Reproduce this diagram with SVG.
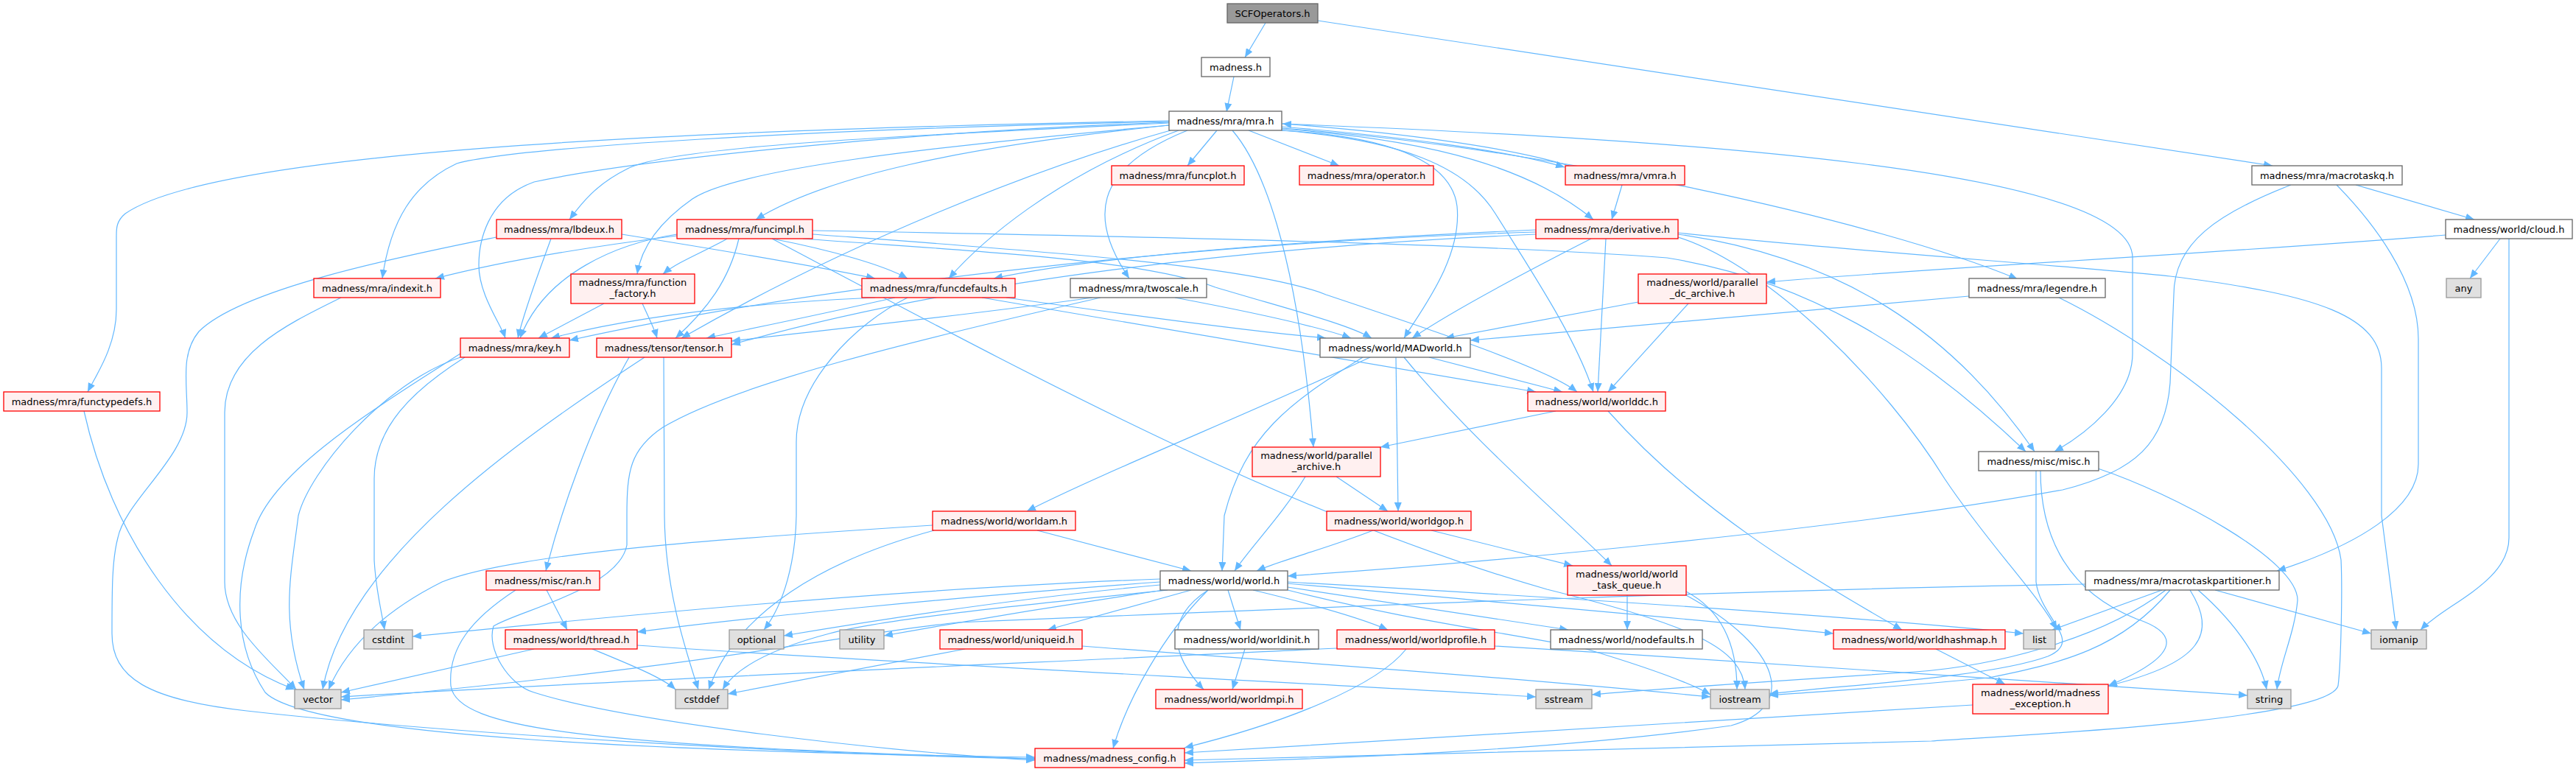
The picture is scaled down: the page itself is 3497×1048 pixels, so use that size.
<svg xmlns="http://www.w3.org/2000/svg" width="3497" height="1048" viewBox="0 0 3497 1048">
<style>
.e{fill:none;stroke:#63b8ff;stroke-width:1.2;marker-end:url(#a)}
.n rect{fill:#ffffff;stroke:#666666;stroke-width:1.3}
.r rect{fill:#fff0f0;stroke:#ff0000;stroke-width:1.3}
.g rect{fill:#e0e0e0;stroke:#999999;stroke-width:1.3}
.s rect{fill:#999999;stroke:#666666;stroke-width:1.3}
text{font-family:"DejaVu Sans","Liberation Sans",sans-serif;font-size:13px;fill:#000;text-anchor:middle}
</style>
<defs>
<marker id="a" viewBox="0 0 12 10" refX="12" refY="5" markerWidth="12" markerHeight="10" orient="auto" markerUnits="userSpaceOnUse"><path d="M0,0 L12,5 L0,10 z" fill="#63b8ff"/></marker>
</defs>
<rect width="3497" height="1048" fill="#ffffff"/>
<g id="edges">
<path class="e" d="M1718,31 L1690,78"/>
<path class="e" d="M1789,28 L3085,225"/>
<path class="e" d="M1675,104 L1665,152"/>
<path class="e" d="M1652,177 L1612,225"/>
<path class="e" d="M1695,177 L1818,225"/>
<path class="e" d="M1740,172 C1900,185 2050,205 2124,227"/>
<path class="e" d="M2130,225 C2050,200 1900,180 1741,168"/>
<path class="e" d="M1740,175 C1950,190 2080,230 2163,298"/>
<path class="e" d="M1740,168 C2300,190 2895,230 2895,350 L2895,480 C2895,540 2830,590 2789,613"/>
<path class="e" d="M1740,174 C2100,200 2550,300 2739,379"/>
<path class="e" d="M1740,177 C1880,185 1970,215 1978,280 C1985,350 1930,420 1906,459"/>
<path class="e" d="M1740,177 C1900,190 1990,225 2030,290 C2080,370 2140,460 2163,532"/>
<path class="e" d="M1673,177 C1710,220 1760,330 1783,607"/>
<path class="e" d="M1612,177 C1480,230 1480,300 1533,378"/>
<path class="e" d="M1600,177 C1430,240 1330,330 1288,378"/>
<path class="e" d="M1589,177 C1400,230 1150,330 925,459"/>
<path class="e" d="M1587,170 C1300,200 1120,240 1026,298"/>
<path class="e" d="M1587,170 C1250,200 1000,230 940,270 C890,305 870,340 865,372"/>
<path class="e" d="M1587,164 C1000,175 300,200 170,290 C158,300 158,310 158,320 L158,420 C158,470 130,510 119,532"/>
<path class="e" d="M1587,165 C1100,175 700,200 620,222 C560,250 530,300 519,378"/>
<path class="e" d="M1587,166 C1200,180 850,220 725,247 C660,270 650,330 650,360 C650,400 680,440 686,459"/>
<path class="e" d="M1587,167 C1200,185 900,200 850,230 C810,250 790,275 773,298"/>
<path class="e" d="M2202,251 L2188,298"/>
<path class="e" d="M3198,251 L3359,298"/>
<path class="e" d="M3110,251 C3010,290 2951,330 2951,400 L2946,520 C2940,600 2900,640 2800,665 C2500,720 2000,765 1748,782"/>
<path class="e" d="M3172,251 C3220,300 3283,380 3283,460 L3283,630 C3283,690 3200,740 3091,775"/>
<path class="e" d="M3394,324 L3353,378"/>
<path class="e" d="M3406,324 L3406,730 C3406,790 3320,820 3286,855"/>
<path class="e" d="M3320,319 C3000,345 2600,365 2398,383"/>
<path class="e" d="M674,322 C560,345 330,390 270,450 C245,480 254,520 254,560 C254,620 170,680 160,730 C152,760 152,800 152,860 C152,920 200,950 335,965 C600,995 1100,1025 1405,1030"/>
<path class="e" d="M748,324 C735,360 712,420 703,459"/>
<path class="e" d="M844,318 C950,335 1100,360 1188,378"/>
<path class="e" d="M987,324 C960,340 920,355 900,372"/>
<path class="e" d="M919,320 C800,335 680,355 591,378"/>
<path class="e" d="M919,318 C840,330 740,370 706,459"/>
<path class="e" d="M1003,324 C990,380 960,420 917,459"/>
<path class="e" d="M1048,324 C1400,510 1750,700 2100,800 C2300,850 2365,880 2369,936"/>
<path class="e" d="M1048,324 C1130,340 1200,360 1232,378"/>
<path class="e" d="M1090,324 C1300,340 1545,350 1650,390 C1750,420 1830,440 1862,459"/>
<path class="e" d="M1103,313 C1500,320 2000,330 2263,350 C2450,380 2600,470 2750,613"/>
<path class="e" d="M1103,318 C1400,340 1700,360 1800,400 C1950,450 2100,500 2141,532"/>
<path class="e" d="M820,412 L731,459"/>
<path class="e" d="M872,412 C880,430 888,445 892,459"/>
<path class="e" d="M463,404 C390,440 305,480 305,560 L305,790 C305,850 370,900 402,936"/>
<path class="e" d="M114,558 C150,720 250,880 400,936"/>
<path class="e" d="M625,485 C520,520 420,640 405,700 C395,780 380,840 413,936"/>
<path class="e" d="M631,485 C560,530 508,580 508,650 L508,760 C510,800 518,830 522,855"/>
<path class="e" d="M625,480 C500,560 370,640 345,720 C315,800 320,880 360,940 C420,1000 900,1020 1405,1028"/>
<path class="e" d="M875,485 C700,600 470,760 438,936"/>
<path class="e" d="M854,485 C800,580 760,700 741,775"/>
<path class="e" d="M901,485 L902,700 C903,800 930,880 948,936"/>
<path class="e" d="M1483,404 C1300,430 1100,450 993,463"/>
<path class="e" d="M1595,404 C1680,420 1780,440 1834,459"/>
<path class="e" d="M1494,404 C1250,460 1000,520 900,580 C855,610 851,640 851,700 L851,740 C840,800 700,830 670,850 C660,880 690,930 725,940 C850,980 1200,1020 1405,1032"/>
<path class="e" d="M1215,404 C1100,430 1000,450 959,459"/>
<path class="e" d="M1188,404 C1050,410 880,425 748,459"/>
<path class="e" d="M1366,404 C1550,430 1700,450 1800,459"/>
<path class="e" d="M1333,404 C1600,450 1900,500 2085,532"/>
<path class="e" d="M1232,404 C1160,440 1081,520 1081,600 L1081,700 C1080,760 1065,820 1037,855"/>
<path class="e" d="M2085,312 C1800,325 1500,345 1349,378"/>
<path class="e" d="M2085,318 C1700,335 1300,380 993,468"/>
<path class="e" d="M2085,315 C1600,330 1100,390 773,462"/>
<path class="e" d="M2160,324 C2050,380 1960,430 1917,459"/>
<path class="e" d="M2180,324 L2169,532"/>
<path class="e" d="M2278,318 C2500,350 2650,450 2762,613"/>
<path class="e" d="M2278,316 C2500,340 2800,360 2946,375 C3150,400 3233,430 3233,500 L3233,700 L3253,855"/>
<path class="e" d="M2278,322 C2400,360 2560,520 2640,650 C2700,740 2770,810 2792,855"/>
<path class="e" d="M2224,410 L1962,459"/>
<path class="e" d="M2292,412 L2183,532"/>
<path class="e" d="M2673,402 L1996,462"/>
<path class="e" d="M2795,404 C2950,480 3163,650 3178,760 C3180,800 3178,900 3174,931 C3160,980 2700,1000 2622,1006 C2200,1020 1800,1030 1608,1032"/>
<path class="e" d="M1860,485 C1700,560 1500,640 1394,694"/>
<path class="e" d="M1850,485 C1750,547 1690,590 1662,700 L1659,775"/>
<path class="e" d="M1895,485 L1898,694"/>
<path class="e" d="M1940,485 L2121,532"/>
<path class="e" d="M1906,485 C2000,600 2120,700 2188,768"/>
<path class="e" d="M2112,558 L1874,607"/>
<path class="e" d="M2183,558 C2300,690 2450,780 2582,855"/>
<path class="e" d="M1772,647 C1740,700 1700,740 1676,775"/>
<path class="e" d="M1814,647 L1884,694"/>
<path class="e" d="M1408,720 L1617,775"/>
<path class="e" d="M1266,713 C1000,730 700,750 600,790 C520,830 470,880 446,936"/>
<path class="e" d="M1268,720 C1120,760 1000,830 962,936"/>
<path class="e" d="M1864,720 C1800,745 1740,760 1706,775"/>
<path class="e" d="M1943,720 L2135,768"/>
<path class="e" d="M2209,808 L2209,855"/>
<path class="e" d="M2289,803 C2340,830 2358,880 2358,936"/>
<path class="e" d="M2289,808 C2420,880 2440,960 2350,985 C2100,1020 1800,1030 1608,1036"/>
<path class="e" d="M700,801 C640,840 608,880 612,931 C620,990 800,1012 1405,1030"/>
<path class="e" d="M742,801 L770,855"/>
<path class="e" d="M725,881 L463,940"/>
<path class="e" d="M804,881 C850,900 900,920 917,936"/>
<path class="e" d="M865,876 C1200,900 1750,925 2085,946"/>
<path class="e" d="M1575,790 C1300,810 1000,840 865,858"/>
<path class="e" d="M1575,786 C1200,800 800,840 560,864"/>
<path class="e" d="M1575,794 C1400,810 1200,840 1064,863"/>
<path class="e" d="M1580,801 C1450,820 1300,845 1200,863"/>
<path class="e" d="M1585,801 C1400,820 1200,840 1126,860 C1050,880 1000,905 981,936"/>
<path class="e" d="M1617,801 L1422,855"/>
<path class="e" d="M1667,801 L1684,855"/>
<path class="e" d="M1640,801 C1580,840 1590,890 1634,936"/>
<path class="e" d="M1640,801 C1580,860 1530,950 1511,1016"/>
<path class="e" d="M1701,801 C1780,820 1850,840 1884,855"/>
<path class="e" d="M1748,797 L2129,855"/>
<path class="e" d="M1748,801 C1900,840 2050,860 2150,880 C2250,910 2300,930 2322,943"/>
<path class="e" d="M1748,792 C2000,815 2300,840 2489,860"/>
<path class="e" d="M1748,790 C2100,810 2500,835 2747,860"/>
<path class="e" d="M1310,881 L988,942"/>
<path class="e" d="M1469,877 C1700,895 2000,915 2322,946"/>
<path class="e" d="M1690,881 L1673,936"/>
<path class="e" d="M1909,881 C1870,930 1750,980 1608,1015"/>
<path class="e" d="M1815,880 C1400,900 800,925 463,946"/>
<path class="e" d="M2029,877 C2400,900 2800,925 3051,944"/>
<path class="e" d="M2628,881 L2722,929"/>
<path class="e" d="M2678,957 C2300,980 1900,1005 1608,1022"/>
<path class="e" d="M2848,636 C2950,670 3120,760 3119,815 C3115,860 3095,900 3091,936"/>
<path class="e" d="M2764,639 L2764,790 C2770,840 2830,870 2780,891 C2700,920 2500,930 2402,942"/>
<path class="e" d="M2770,639 C2770,720 2800,800 2900,840 C2960,860 2960,890 2862,931"/>
<path class="e" d="M2831,793 C2400,800 1900,820 1300,845 C1150,860 1000,900 463,950"/>
<path class="e" d="M2935,801 L2786,855"/>
<path class="e" d="M2946,801 C2880,880 2800,900 2700,920 C2550,935 2450,940 2402,944"/>
<path class="e" d="M2940,801 C2850,870 2700,905 2600,912 C2400,925 2250,935 2161,943"/>
<path class="e" d="M2973,801 C3010,860 2990,900 2862,931"/>
<path class="e" d="M2984,801 C3040,850 3070,900 3077,936"/>
<path class="e" d="M3007,801 L3219,860"/>
</g>
<g id="node-scf" class="s"><rect x="1666" y="5" width="123" height="26"/><text x="1727.5" y="22.5">SCFOperators.h</text></g>
<g id="node-madness" class="n"><rect x="1631" y="78" width="93" height="26"/><text x="1677.5" y="95.5">madness.h</text></g>
<g id="node-mra" class="n"><rect x="1587" y="151" width="153" height="26"/><text x="1663.5" y="168.5">madness/mra/mra.h</text></g>
<g id="node-funcplot" class="r"><rect x="1509" y="225" width="180" height="26"/><text x="1599" y="242.5">madness/mra/funcplot.h</text></g>
<g id="node-operator" class="r"><rect x="1764" y="225" width="182" height="26"/><text x="1855" y="242.5">madness/mra/operator.h</text></g>
<g id="node-vmra" class="r"><rect x="2125" y="225" width="162" height="26"/><text x="2206" y="242.5">madness/mra/vmra.h</text></g>
<g id="node-macrotaskq" class="n"><rect x="3057" y="225" width="204" height="26"/><text x="3159" y="242.5">madness/mra/macrotaskq.h</text></g>
<g id="node-lbdeux" class="r"><rect x="674" y="298" width="170" height="26"/><text x="759" y="315.5">madness/mra/lbdeux.h</text></g>
<g id="node-funcimpl" class="r"><rect x="919" y="298" width="184" height="26"/><text x="1011" y="315.5">madness/mra/funcimpl.h</text></g>
<g id="node-derivative" class="r"><rect x="2085" y="298" width="193" height="26"/><text x="2181.5" y="315.5">madness/mra/derivative.h</text></g>
<g id="node-cloud" class="n"><rect x="3320" y="298" width="172" height="26"/><text x="3406" y="315.5">madness/world/cloud.h</text></g>
<g id="node-indexit" class="r"><rect x="426" y="378" width="172" height="26"/><text x="512" y="395.5">madness/mra/indexit.h</text></g>
<g id="node-function-factory" class="r"><rect x="775" y="372" width="168" height="40"/><text x="859" y="388">madness/mra/function</text><text x="859" y="403">_factory.h</text></g>
<g id="node-funcdefaults" class="r"><rect x="1170" y="378" width="208" height="26"/><text x="1274" y="395.5">madness/mra/funcdefaults.h</text></g>
<g id="node-twoscale" class="n"><rect x="1453" y="378" width="185" height="26"/><text x="1545.5" y="395.5">madness/mra/twoscale.h</text></g>
<g id="node-parallel-dc-archive" class="r"><rect x="2224" y="372" width="174" height="40"/><text x="2311" y="388">madness/world/parallel</text><text x="2311" y="403">_dc_archive.h</text></g>
<g id="node-legendre" class="n"><rect x="2673" y="378" width="185" height="26"/><text x="2765.5" y="395.5">madness/mra/legendre.h</text></g>
<g id="node-any" class="g"><rect x="3321" y="378" width="47" height="26"/><text x="3344.5" y="395.5">any</text></g>
<g id="node-key" class="r"><rect x="625" y="459" width="148" height="26"/><text x="699" y="476.5">madness/mra/key.h</text></g>
<g id="node-tensor" class="r"><rect x="810" y="459" width="183" height="26"/><text x="901.5" y="476.5">madness/tensor/tensor.h</text></g>
<g id="node-madworld" class="n"><rect x="1792" y="459" width="204" height="26"/><text x="1894" y="476.5">madness/world/MADworld.h</text></g>
<g id="node-functypedefs" class="r"><rect x="5" y="532" width="212" height="26"/><text x="111" y="549.5">madness/mra/functypedefs.h</text></g>
<g id="node-worlddc" class="r"><rect x="2074" y="532" width="187" height="26"/><text x="2167.5" y="549.5">madness/world/worlddc.h</text></g>
<g id="node-misc" class="n"><rect x="2686" y="613" width="163" height="26"/><text x="2767.5" y="630.5">madness/misc/misc.h</text></g>
<g id="node-parallel-archive" class="r"><rect x="1700" y="607" width="174" height="40"/><text x="1787" y="623">madness/world/parallel</text><text x="1787" y="638">_archive.h</text></g>
<g id="node-worlddam" class="r"><rect x="1266" y="694" width="194" height="26"/><text x="1363" y="711.5">madness/world/worldam.h</text></g>
<g id="node-worldgop" class="r"><rect x="1801" y="694" width="196" height="26"/><text x="1899" y="711.5">madness/world/worldgop.h</text></g>
<g id="node-world-task-queue" class="r"><rect x="2128" y="768" width="161" height="40"/><text x="2208.5" y="784">madness/world/world</text><text x="2208.5" y="799">_task_queue.h</text></g>
<g id="node-ran" class="r"><rect x="660" y="775" width="154" height="26"/><text x="737" y="792.5">madness/misc/ran.h</text></g>
<g id="node-world" class="n"><rect x="1575" y="775" width="173" height="26"/><text x="1661.5" y="792.5">madness/world/world.h</text></g>
<g id="node-partitioner" class="n"><rect x="2831" y="775" width="263" height="26"/><text x="2962.5" y="792.5">madness/mra/macrotaskpartitioner.h</text></g>
<g id="node-cstdint" class="g"><rect x="494" y="855" width="66" height="26"/><text x="527" y="872.5">cstdint</text></g>
<g id="node-thread" class="r"><rect x="686" y="855" width="179" height="26"/><text x="775.5" y="872.5">madness/world/thread.h</text></g>
<g id="node-optional" class="g"><rect x="990" y="855" width="74" height="26"/><text x="1027" y="872.5">optional</text></g>
<g id="node-utility" class="g"><rect x="1140" y="855" width="60" height="26"/><text x="1170" y="872.5">utility</text></g>
<g id="node-uniqueid" class="r"><rect x="1276" y="855" width="193" height="26"/><text x="1372.5" y="872.5">madness/world/uniqueid.h</text></g>
<g id="node-worldinit" class="n"><rect x="1595" y="855" width="195" height="26"/><text x="1692.5" y="872.5">madness/world/worldinit.h</text></g>
<g id="node-worldprofile" class="r"><rect x="1815" y="855" width="214" height="26"/><text x="1922" y="872.5">madness/world/worldprofile.h</text></g>
<g id="node-nodefaults" class="n"><rect x="2105" y="855" width="206" height="26"/><text x="2208" y="872.5">madness/world/nodefaults.h</text></g>
<g id="node-worldhashmap" class="r"><rect x="2489" y="855" width="233" height="26"/><text x="2605.5" y="872.5">madness/world/worldhashmap.h</text></g>
<g id="node-list" class="g"><rect x="2747" y="855" width="43" height="26"/><text x="2768.5" y="872.5">list</text></g>
<g id="node-iomanip" class="g"><rect x="3219" y="855" width="75" height="26"/><text x="3256.5" y="872.5">iomanip</text></g>
<g id="node-vector" class="g"><rect x="400" y="936" width="63" height="26"/><text x="431.5" y="953.5">vector</text></g>
<g id="node-cstddef" class="g"><rect x="917" y="936" width="71" height="26"/><text x="952.5" y="953.5">cstddef</text></g>
<g id="node-worldmpi" class="r"><rect x="1569" y="936" width="199" height="26"/><text x="1668.5" y="953.5">madness/world/worldmpi.h</text></g>
<g id="node-sstream" class="g"><rect x="2085" y="936" width="76" height="26"/><text x="2123" y="953.5">sstream</text></g>
<g id="node-iostream" class="g"><rect x="2322" y="936" width="80" height="26"/><text x="2362" y="953.5">iostream</text></g>
<g id="node-madness-exception" class="r"><rect x="2678" y="929" width="184" height="40"/><text x="2770" y="945">madness/world/madness</text><text x="2770" y="960">_exception.h</text></g>
<g id="node-string" class="g"><rect x="3051" y="936" width="59" height="26"/><text x="3080.5" y="953.5">string</text></g>
<g id="node-madness-config" class="r"><rect x="1405" y="1016" width="203" height="26"/><text x="1506.5" y="1033.5">madness/madness_config.h</text></g>
</svg>
